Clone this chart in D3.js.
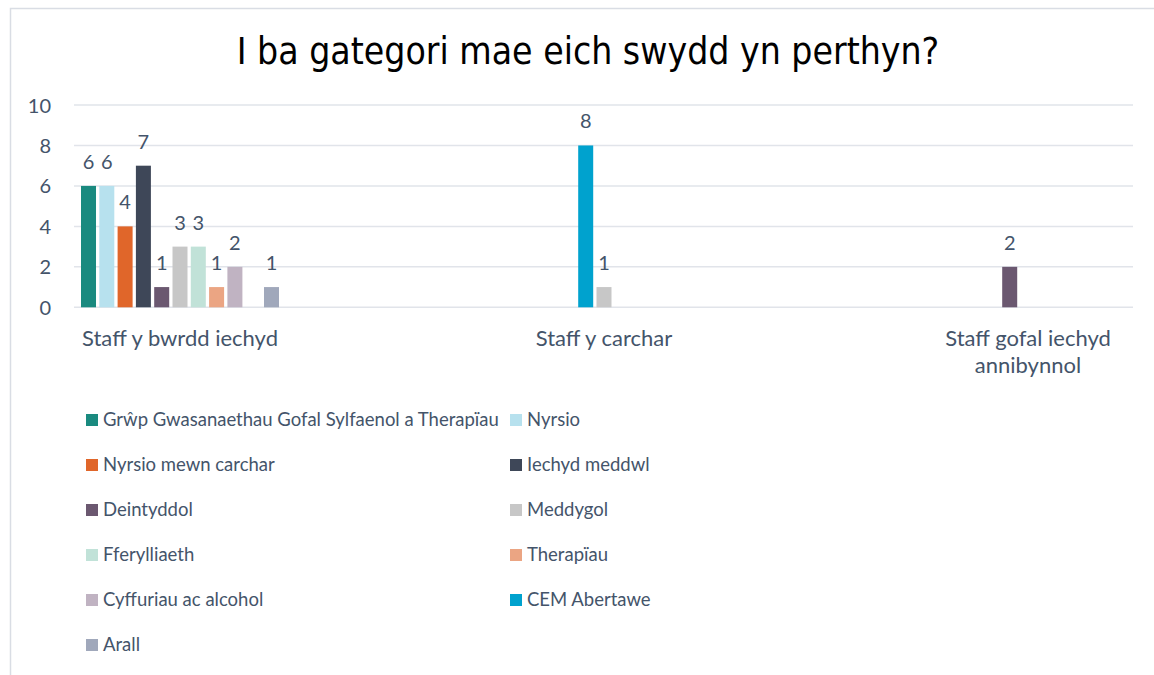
<!DOCTYPE html>
<html lang="cy">
    <head>
        <meta charset="utf-8">
        <title>I ba gategori mae eich swydd yn perthyn?</title>
        <script type="text/javascript" src="https://d3js.org/d3.v7.min.js"></script>
        <style type="text/css">
          body { margin: 0; background: #fff; }
          text { font-family: Lato, "Open Sans", sans-serif; fill: #44546a; }
        </style>
    </head>
    <body>
        <svg width="1154" height="675"></svg>
        <script type="text/javascript">

            const svg = d3.select("svg");
            const w = 1154;
            const h = 675;

            // categories on the x axis
            const categories = ["Staff y bwrdd iechyd", "Staff y carchar", "Staff gofal iechyd annibynnol"];

            // series, in legend order
            const seriesNames = [
              "Grŵp Gwasanaethau Gofal Sylfaenol a Therapïau",
              "Nyrsio",
              "Nyrsio mewn carchar",
              "Iechyd meddwl",
              "Deintyddol",
              "Meddygol",
              "Fferylliaeth",
              "Therapïau",
              "Cyffuriau ac alcohol",
              "CEM Abertawe",
              "Arall"
            ];
            const seriesColors = ["#1a8a7f", "#b7e1ee", "#e0662a", "#3e4758", "#6b5870", "#c7c7c7",
                                  "#c1e2d8", "#eba583", "#c0b3c2", "#00a2ce", "#a0a8bb"];

            // one value per category for each series (null = no answer)
            const grwp        = [6, null, null];
            const nyrsio      = [6, null, null];
            const nyrsioCarchar = [4, null, null];
            const iechydMeddwl = [7, null, null];
            const deintyddol  = [1, null, 2];
            const meddygol    = [3, 1, null];
            const fferylliaeth = [3, null, null];
            const therapiau   = [1, null, null];
            const cyffuriau   = [2, null, null];
            const cemAbertawe = [null, 8, null];
            const arall       = [1, null, null];
            const seriesValues = [grwp, nyrsio, nyrsioCarchar, iechydMeddwl, deintyddol, meddygol,
                                  fferylliaeth, therapiau, cyffuriau, cemAbertawe, arall];

            // which series sits in each slot of a cluster (as in the source workbook)
            const clusterOrder = [
              [0, 1, 2, 3, 4, 5, 6, 7, 8, 9, 10],
              [null, null, null, null, 9, 5, null, null, null, null, null],
              [null, null, null, null, 4, null, null, null, null, null, null]
            ];

            const yTicks = [0, 2, 4, 6, 8, 10];

            // bars, built from the arrays above
            const bars = [];
            categories.forEach((c, ci) => {
              clusterOrder[ci].forEach((si, slot) => {
                if (si === null) return;
                const v = seriesValues[si][ci];
                if (v === null) return;
                bars.push({cat: c, slot: slot, series: si, value: v});
              });
            });

            // chart frame
            svg.append("rect")
               .attr("x", 10.5).attr("y", 8.5)
               .attr("width", 1170).attr("height", 690)
               .style("fill", "none")
               .style("stroke", "#d9dde4")
               .style("stroke-width", 1.5);

            // title
            svg.append("text")
               .attr("x", 588).attr("y", 64)
               .attr("text-anchor", "middle")
               .style("font-family", "'DejaVu Sans Condensed', 'DejaVu Sans', sans-serif")
               .style("font-size", "37px")
               .style("fill", "#000")
               .text("I ba gategori mae eich swydd yn perthyn?");

            // scales
            const y = d3.scaleLinear().domain([0, 10]).range([307.3, 105]);
            const x0 = d3.scalePoint().domain(categories).range([180, 1028]);
            const x1 = d3.scaleBand().domain(d3.range(11)).range([-99, 99]).paddingInner(0.18);

            // gridlines
            svg.append("g")
               .selectAll("line")
               .data(yTicks)
               .enter()
               .append("line")
               .attr("x1", 74).attr("x2", 1133)
               .attr("y1", d => y(d)).attr("y2", d => y(d))
               .style("stroke", "#e1e4ea")
               .style("stroke-width", 1.5);

            // y axis labels
            const yAxis = d3.axisLeft(y).tickValues(yTicks).tickSize(0).tickPadding(0);
            svg.append("g")
               .attr("transform", "translate(51,0)")
               .call(yAxis)
               .call(g => g.select(".domain").remove())
               .selectAll("text")
               .style("font-size", "20px")
               .style("font-family", "Lato, sans-serif")
               .style("fill", "#44546a")
               .attr("dy", "0.35em");

            // bars
            svg.append("g")
               .selectAll("rect")
               .data(bars)
               .enter()
               .append("rect")
               .attr("x", d => x0(d.cat) + x1(d.slot))
               .attr("y", d => y(d.value))
               .attr("width", x1.bandwidth())
               .attr("height", d => y(0) - y(d.value))
               .style("fill", d => seriesColors[d.series]);

            // data labels
            svg.append("g")
               .selectAll("text")
               .data(bars)
               .enter()
               .append("text")
               .attr("x", d => x0(d.cat) + x1(d.slot) + x1.bandwidth() / 2)
               .attr("y", d => y(d.value) - 17)
               .attr("text-anchor", "middle")
               .style("font-size", "20px")
               .text(d => d.value);

            // category labels, wrapped
            const catLabels = svg.append("g")
               .selectAll("text")
               .data(categories)
               .enter()
               .append("text")
               .attr("x", d => x0(d))
               .attr("y", 346)
               .attr("text-anchor", "middle")
               .style("font-size", "22px");

            catLabels.each(function(d) {
              const t = d3.select(this);
              const words = d.split(" ");
              let line = [];
              let ts = t.append("tspan").attr("x", x0(d)).attr("dy", 0);
              words.forEach(wd => {
                line.push(wd);
                ts.text(line.join(" "));
                if (ts.node().getComputedTextLength() > 225 && line.length > 1) {
                  line.pop();
                  ts.text(line.join(" "));
                  line = [wd];
                  ts = t.append("tspan").attr("x", x0(d)).attr("dy", 27).text(wd);
                }
              });
            });

            // legend, two columns
            const legend = svg.append("g")
               .selectAll("g")
               .data(seriesNames)
               .enter()
               .append("g")
               .attr("transform", (d, i) => `translate(${i % 2 === 0 ? 86 : 510},${420 + Math.floor(i / 2) * 45})`);

            legend.append("rect")
               .attr("x", 0).attr("y", -6)
               .attr("width", 12).attr("height", 12)
               .style("fill", (d, i) => seriesColors[i]);

            legend.append("text")
               .attr("x", 17).attr("y", 0)
               .attr("dy", "0.35em")
               .style("font-size", "18.5px")
               .text(d => d);

        </script>
    </body>
</html>
